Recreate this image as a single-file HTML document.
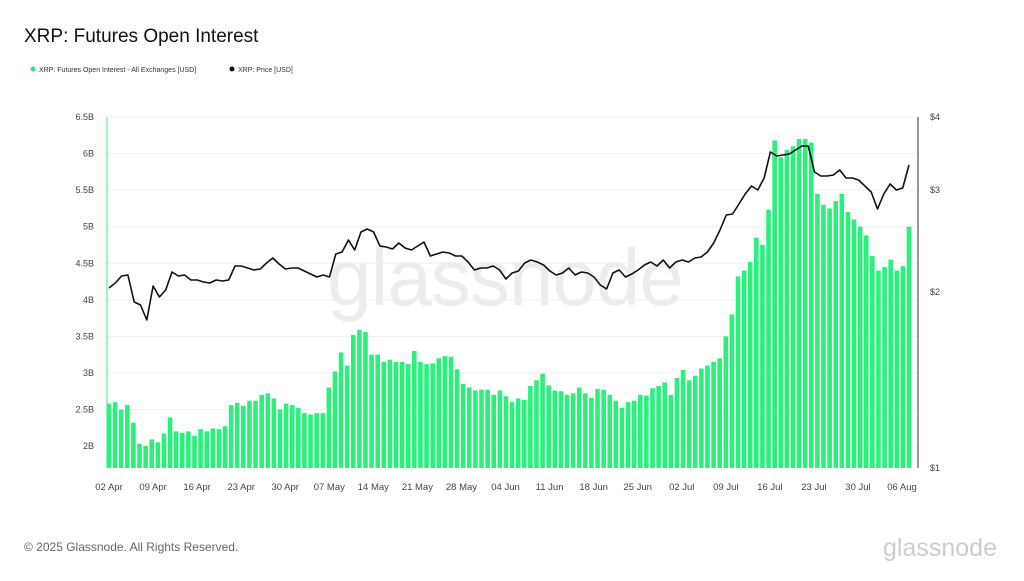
<!DOCTYPE html>
<html><head><meta charset="utf-8"><style>
body{margin:0;background:#fff;font-family:"Liberation Sans",sans-serif;}
svg text{font-family:"Liberation Sans",sans-serif;}
</style></head><body>
<svg id="c" width="1024" height="576" xmlns="http://www.w3.org/2000/svg">
<rect width="1024" height="576" fill="#fff"/>
<text x="24" y="42" font-size="19" fill="#111">XRP: Futures Open Interest</text>
<circle cx="33" cy="69" r="2.5" fill="#2de87a"/>
<text x="39" y="72" font-size="7" fill="#333">XRP: Futures Open Interest - All Exchanges [USD]</text>
<circle cx="232" cy="69" r="2.5" fill="#111"/>
<text x="238" y="72" font-size="7" fill="#333">XRP: Price [USD]</text>
<text x="505" y="305" font-size="80" fill="#ececec" text-anchor="middle" letter-spacing="-1">glassnode</text>
<g id="g"></g>
<text x="24" y="551" font-size="12" fill="#666">© 2025 Glassnode. All Rights Reserved.</text>
<text x="997" y="556" font-size="25" fill="#ccc" text-anchor="end">glassnode</text>
</svg>
<script>
var g=document.getElementById('g'),s='';
function Y(v){return 446-(v-2)*73.1;}
var labs=['2B','2.5B','3B','3.5B','4B','4.5B','5B','5.5B','6B','6.5B'];
for(var i=0;i<10;i++){var y=Y(2+i*0.5);s+='<line x1="107" x2="918" y1="'+y+'" y2="'+y+'" stroke="#f0f0f0"/>';s+='<text x="94" y="'+(y+3)+'" font-size="9" fill="#444" text-anchor="end">'+labs[i]+'</text>';}
var bars=[2.58,2.6,2.5,2.56,2.32,2.03,2.0,2.09,2.05,2.17,2.39,2.2,2.18,2.2,2.14,2.23,2.2,2.24,2.23,2.27,2.56,2.59,2.55,2.62,2.62,2.7,2.72,2.65,2.5,2.58,2.56,2.52,2.45,2.43,2.45,2.45,2.8,3.02,3.28,3.1,3.52,3.59,3.56,3.25,3.25,3.15,3.18,3.15,3.15,3.12,3.3,3.15,3.12,3.13,3.2,3.23,3.22,3.05,2.85,2.8,2.76,2.77,2.77,2.7,2.76,2.68,2.6,2.65,2.63,2.82,2.9,2.99,2.83,2.76,2.75,2.7,2.72,2.8,2.72,2.66,2.78,2.77,2.7,2.62,2.52,2.6,2.62,2.7,2.69,2.79,2.82,2.87,2.7,2.93,3.04,2.9,2.96,3.06,3.1,3.15,3.2,3.5,3.8,4.32,4.4,4.52,4.85,4.75,5.23,6.18,5.95,6.05,6.1,6.2,6.2,6.15,5.45,5.3,5.25,5.35,5.45,5.2,5.1,5.0,4.88,4.6,4.4,4.45,4.55,4.4,4.46,5.0];
var n=bars.length,x0=109,x1=909,dx=(x1-x0)/(n-1);
for(var i=0;i<n;i++){var x=x0+i*dx,y=Y(bars[i]);s+='<rect x="'+(x-2.3)+'" y="'+y+'" width="4.6" height="'+(468-y)+'" fill="#2cf07c"/>';}
s+='<line x1="107" x2="107" y1="117" y2="468" stroke="#2cf07c" stroke-width="1"/>';
s+='<line x1="918" x2="918" y1="117" y2="468" stroke="#333" stroke-width="1"/>';
[['$4',117],['$3',190],['$2',292],['$1',468]].forEach(function(a){s+='<text x="930" y="'+(a[1]+3)+'" font-size="9" fill="#444">'+a[0]+'</text>';});
var dl=['02 Apr','09 Apr','16 Apr','23 Apr','30 Apr','07 May','14 May','21 May','28 May','04 Jun','11 Jun','18 Jun','25 Jun','02 Jul','09 Jul','16 Jul','23 Jul','30 Jul','06 Aug'];
for(var i=0;i<dl.length;i++){var x=109+i*7*6.294;s+='<text x="'+x+'" y="490" font-size="9.5" fill="#444" text-anchor="middle">'+dl[i]+'</text>';}
var p=[288,283,276,275,302,305,320,286,297,290,272,276,275,280,280,282,283,280,281,280,266,266,268,270,269,263,258,264,269,268,268,271,274,277,275,277,254,252,240,250,232,229,232,246,247,249,243,248,250,246,242,256,254,252,253,256,256,262,270,268,268,266,270,279,273,271,263,260,262,265,271,275,273,268,275,272,273,277,285,289,273,270,277,274,270,265,262,266,260,268,262,260,262,258,257,252,243,230,215,214,204,194,186,190,178,152,156,155,154,150,146,146,172,176,176,175,170,178,178,180,186,192,209,194,184,190,188,165];
var m=p.length,d='',px=(x1-x0)/(m-1);
for(var i=0;i<m;i++)d+=(i?'L':'M')+(x0+i*px).toFixed(1)+' '+p[i];
s+='<path d="'+d+'" fill="none" stroke="#111" stroke-width="1.6" stroke-linejoin="round"/>';
g.innerHTML=s;
</script>
</body></html>
